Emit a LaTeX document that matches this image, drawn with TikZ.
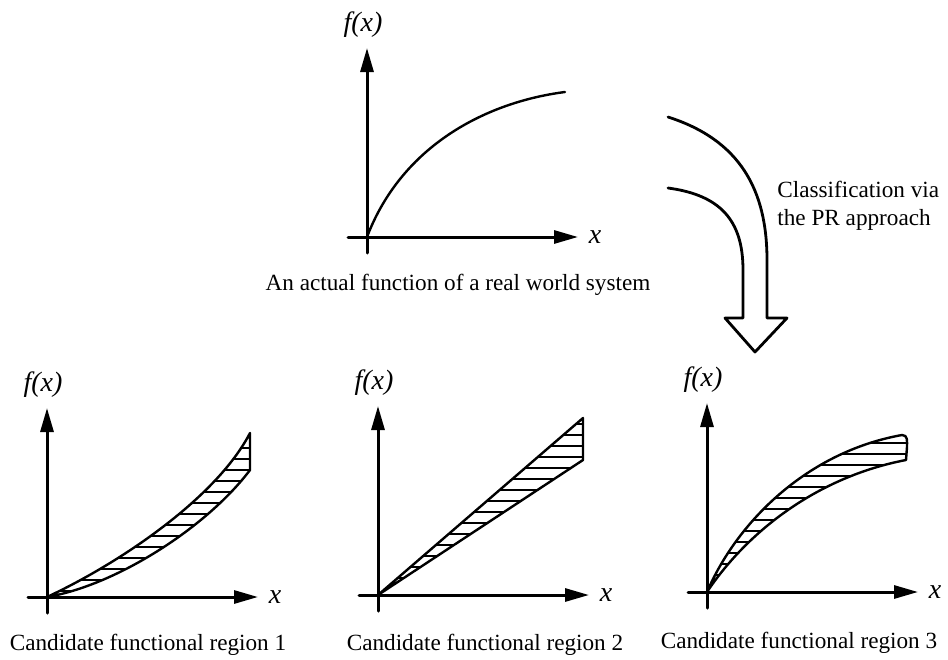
\documentclass[tikz,border=0pt]{standalone}
\usepackage{fontspec}
\setmainfont{Liberation Serif}
\usepackage{tikz}
\usetikzlibrary{arrows.meta,positioning,calc}

\newcommand\regionone{(0,0) .. controls (75,-35) and (170,-100) .. (203,-164) -- (203,-127) .. controls (160,-70) and (70,-12) .. (0,0) -- cycle}
\newcommand\regiontwo{(0,0) -- (205,-177) -- (205,-135) -- cycle}
\newcommand\regionthree{(0,0) .. controls (30,-70) and (100,-140) .. (195,-157) .. controls (201,-157) and (200,-151) .. (200,-145) -- (199,-132) .. controls (110,-115) and (40,-60) .. (0,0) -- cycle}

\begin{document}
\begin{tikzpicture}[x=0.5pt,y=-0.5pt,line cap=round,line join=round,
    axis/.style={line width=1.5pt,-{Triangle[length=12pt,width=6.5pt]}},
    curve/.style={line width=1.2pt},
    hatch/.style={line width=0.9pt},
    every node/.style={font=\fontsize{11.6}{14}\selectfont,inner sep=1pt}]
    \useasboundingbox (0,0) rectangle (948,659);
    % axes of the four plots
    \foreach \idx/\ox/\oy in {0/367/237,1/47/597,2/378/595,3/707/592} {
        \coordinate (o\idx) at (\ox,\oy);
        \draw[axis] (\ox,\oy+16) -- (\ox,\oy-189);
        \draw[axis] (\ox-19,\oy) -- (\ox+211,\oy);
        \node[font=\fontsize{14}{16}\selectfont\itshape] (fx\idx) at (\ox-4,\oy-212) {f(x)};
        \node[font=\fontsize{14}{16}\selectfont\itshape] (x\idx) at (\ox+228,\oy) {x};
    }
    % the real function
    \draw[curve] (o0) .. controls ++(35,-92) and ++(-78,10) .. ++(198,-145);
    % candidate regions
    \foreach \idx/\reg in {1/\regionone,2/\regiontwo,3/\regionthree} {
        \begin{scope}[shift={(o\idx)}]
            \begin{scope}
                \clip \reg;
                \foreach \h in {-6,-17,...,-180} \draw[hatch] (-5,\h) -- (215,\h);
            \end{scope}
            \draw[curve] \reg;
        \end{scope}
    }
    % hollow arrow
    \draw[line width=1.4pt] (668,117) .. controls (740,140) and (767,190) .. (767,260) -- (767,318)
        -- (787,318) -- (755,352) -- (725,318) -- (743,318) -- (743,270)
        .. controls (743,220) and (720,195) .. (668,188);
    \node[anchor=west,align=left] (pr) at (775,206) {Classification via\\the PR approach};
    % captions
    \node (cap0) at (458,285) {An actual function of a real world system};
    \node (cap1) at (148,645) {Candidate functional region 1};
    \node (cap2) at (485,645) {Candidate functional region 2};
    \node (cap3) at (799,643) {Candidate functional region 3};
\end{tikzpicture}
\end{document}
